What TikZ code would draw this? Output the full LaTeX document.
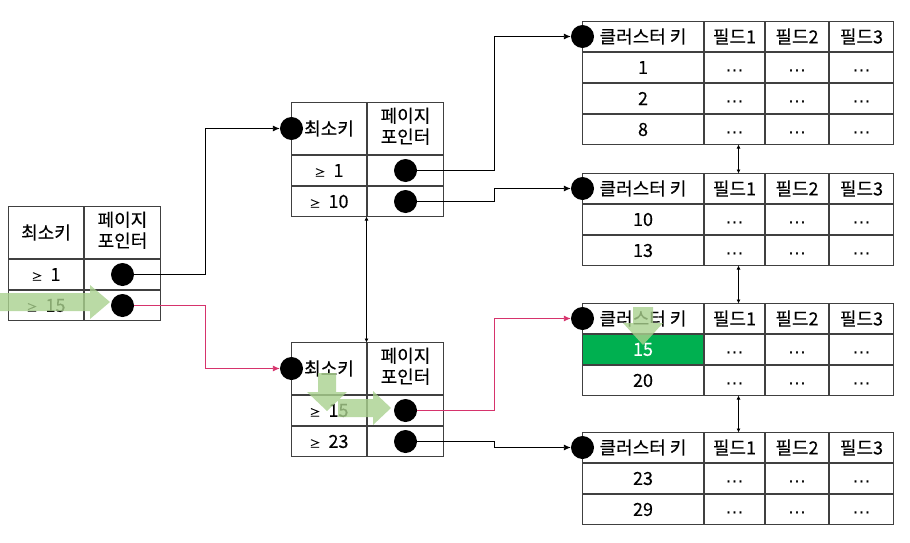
\documentclass[tikz,border=0pt]{standalone}
\usepackage{fontspec}
\setmainfont{Noto Sans CJK KR}[FakeBold=0.3]
\newfontfamily\symfont{DejaVu Sans}
\usepackage{tikz}
\usetikzlibrary{calc}
\usetikzlibrary{matrix}
\usetikzlibrary{positioning}
\usetikzlibrary{arrows.meta}
\definecolor{tableline}{RGB}{64,64,64}
\definecolor{hotpink}{RGB}{214,51,108}
\definecolor{hitgreen}{RGB}{0,176,80}
\definecolor{trailgreen}{RGB}{169,209,142}
\newcommand{\atleast}{{\fontsize{11}{11}\selectfont ≥}\hspace{8pt}}
\newcommand{\fielddots}{\vphantom{1}\smash{\raisebox{-2.5pt}{\symfont ⋯}}}
\newcommand{\pointerhead}{\begin{tabular}{@{}c@{}}페이지\\포인터\end{tabular}}
\tikzset{
	>={Latex[length=7pt,width=6pt]},
	keytable/.style={
		matrix of nodes,
		nodes in empty cells,
		anchor=north west,
		inner sep=0pt, outer sep=0pt,
		column sep=0pt, row sep=0pt,
		nodes={
			draw=tableline, line width=1pt,
			minimum height=30pt,
			inner sep=0pt, outer sep=0pt,
			anchor=center}},
	indextable/.style={
		keytable,
		column 1/.style={nodes={minimum width=75pt}},
		column 2/.style={nodes={minimum width=76pt}},
		row 1/.style={nodes={minimum height=52pt}}},
	leaftable/.style={
		keytable,
		column 1/.style={nodes={minimum width=121pt}},
		column 2/.style={nodes={minimum width=60pt}},
		column 3/.style={nodes={minimum width=63pt}},
		column 4/.style={nodes={minimum width=64pt}}},
	dot/.style={circle, fill=black, minimum size=23pt, inner sep=0pt},
	link/.style={draw, line width=0.9pt, ->},
	hotlink/.style={link, draw=hotpink},
	sibling/.style={draw, line width=0.7pt, {Latex[length=4pt,width=4pt]}-{Latex[length=4pt,width=4pt]}},
	trail/.style={fill=trailgreen, fill opacity=0.8},
}
\begin{document}
\begin{tikzpicture}[x=1pt, y=-1pt, font=\fontsize{18}{20}\selectfont]
	\useasboundingbox (0,0) rectangle (910,543);
	\matrix (root) [indextable] at (8,206) {
		최소키 & \pointerhead \\
		\atleast 1 & \\
		\atleast 15 & \\
	};
	\matrix (midA) [indextable] at (291,102) {
		최소키 & \pointerhead \\
		\atleast 1 & \\
		\atleast 10 & \\
	};
	\matrix (midB) [indextable] at (291,342) {
		최소키 & \pointerhead \\
		\atleast 15 & \\
		\atleast 23 & \\
	};
	\matrix (leafA) [leaftable] at (582,21) {
		클러스터 키 & 필드1 & 필드2 & 필드3 \\
		1 & \fielddots & \fielddots & \fielddots \\
		2 & \fielddots & \fielddots & \fielddots \\
		8 & \fielddots & \fielddots & \fielddots \\
	};
	\matrix (leafB) [leaftable] at (582,173) {
		클러스터 키 & 필드1 & 필드2 & 필드3 \\
		10 & \fielddots & \fielddots & \fielddots \\
		13 & \fielddots & \fielddots & \fielddots \\
	};
	\matrix (leafC) [leaftable] at (582,303) {
		클러스터 키 & 필드1 & 필드2 & 필드3 \\
		|[fill=hitgreen, text=white]| 15 & \fielddots & \fielddots & \fielddots \\
		20 & \fielddots & \fielddots & \fielddots \\
	};
	\matrix (leafD) [leaftable] at (582,432) {
		클러스터 키 & 필드1 & 필드2 & 필드3 \\
		23 & \fielddots & \fielddots & \fielddots \\
		29 & \fielddots & \fielddots & \fielddots \\
	};
	% search path
	\fill[trail] (0,293) -- (90,293) -- (90,285) -- (110,302) -- (90,319) -- (90,311) -- (0,311) -- cycle;
	\fill[trail] (318,373) -- (336,373) -- (336,392) -- (347,392) -- (327,411) -- (307,392) -- (318,392) -- cycle
		(338,399) -- (373,399) -- (373,391) -- (391,408) -- (373,425) -- (373,417) -- (338,417) -- cycle;
	\fill[trail] (633,307) -- (653,307) -- (653,323) -- (663,323) -- (643,345) -- (623,323) -- (633,323) -- cycle;
	\node[dot] (rootp1) at (root-2-2) {};
	\node[dot] (rootp2) at (root-3-2) {};
	\node[dot] (midAp1) at (midA-2-2) {};
	\node[dot] (midAp2) at (midA-3-2) {};
	\node[dot] (midBp1) at (midB-2-2) {};
	\node[dot] (midBp2) at (midB-3-2) {};
	\node[dot] (midAin) at (midA-1-1.west) {};
	\node[dot] (midBin) at (midB-1-1.west) {};
	\node[dot] (leafAin) at (leafA-1-1.west) {};
	\node[dot] (leafBin) at (leafB-1-1.west) {};
	\node[dot] (leafCin) at (leafC-1-1.west) {};
	\node[dot] (leafDin) at (leafD-1-1.west) {};
	\coordinate (busL) at (205,0);
	\coordinate (busR) at (494,0);
	\draw[link] (rootp1.east) -- (rootp1.east -| busL) |- (midAin.west);
	\draw[hotlink] (rootp2.east) -- (rootp2.east -| busL) |- (midBin.west);
	\draw[link] (midAp1.east) -- (midAp1.east -| busR) |- (leafAin.west);
	\draw[link] (midAp2.east) -- (midAp2.east -| busR) |- (leafBin.west);
	\draw[hotlink] (midBp1.east) -- (midBp1.east -| busR) |- (leafCin.west);
	\draw[link] (midBp2.east) -- (midBp2.east -| busR) |- (leafDin.west);
	\draw[sibling] (midA-3-1.south east) -- (midB-1-1.north east);
	\draw[sibling] ([xshift=4pt]leafA-4-2.south) -- ([xshift=4pt]leafB-1-2.north);
	\draw[sibling] ([xshift=4pt]leafB-3-2.south) -- ([xshift=4pt]leafC-1-2.north);
	\draw[sibling] ([xshift=4pt]leafC-3-2.south) -- ([xshift=4pt]leafD-1-2.north);
\end{tikzpicture}
\end{document}
